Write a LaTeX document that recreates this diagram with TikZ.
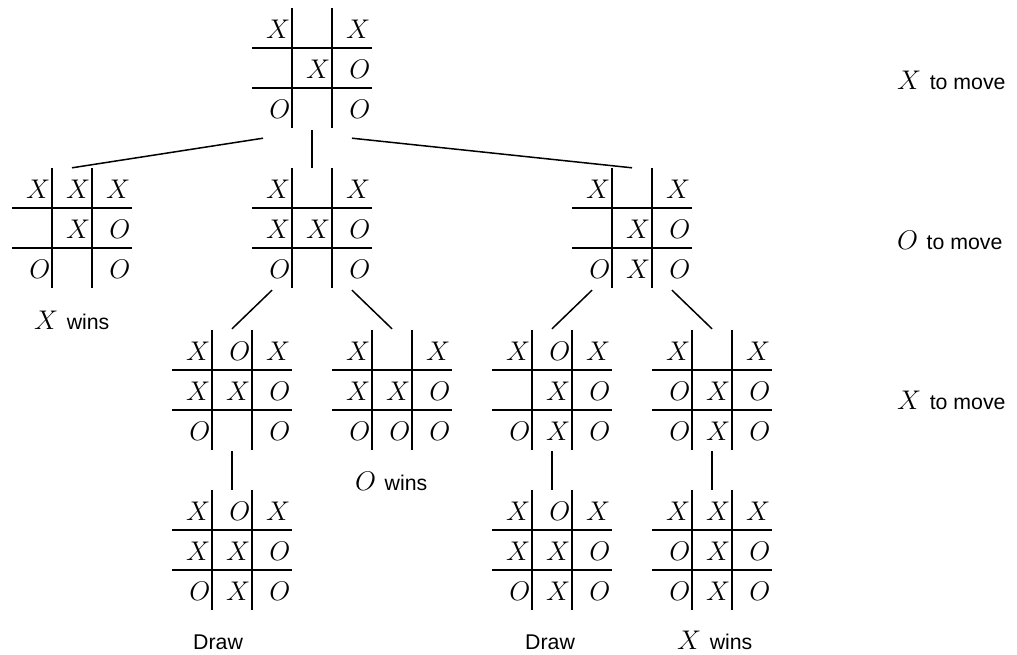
\RequirePackage{fix-cm}
\documentclass[tikz,border=0pt]{standalone}
\usepackage{fontspec}
\setmainfont{Liberation Sans}
\usetikzlibrary{calc}
\newcommand\XO[1]{{\fontsize{27}{30}\selectfont$#1$}\hspace{8.5pt}}
\tikzset{
  gridline/.style={line width=1.7pt},
  edge/.style={line width=1.5pt},
  cellmark/.style={inner sep=0pt, anchor=base east, font=\fontsize{27}{30}\selectfont},
  boardbox/.style={draw=none, minimum width=120pt, minimum height=120pt, inner sep=0pt},
  lbl/.style={inner sep=0pt, anchor=base west, font=\fontsize{21.3}{24}\selectfont},
}
% \tttboard{name}{left}{top}{cells}
\newcommand\tttboard[4]{%
  \node[boardbox] (#1) at (#2+60,#3+60) {};
  \draw[gridline] (#2+40,#3) -- (#2+40,#3+120);
  \draw[gridline] (#2+80,#3) -- (#2+80,#3+120);
  \draw[gridline] (#2,#3+40) -- (#2+120,#3+40);
  \draw[gridline] (#2,#3+80) -- (#2+120,#3+80);
  \foreach \c [count=\i from 0] in {#4} {
    \pgfmathtruncatemacro\col{mod(\i,3)}
    \pgfmathtruncatemacro\row{int(\i/3)}
    \node[cellmark] (#1-\i) at ({#2+40*(\col+1)-1.5},{#3+40*(\row+1)-10}) {$\c$};
  }
}
\begin{document}
\begin{tikzpicture}[x=1pt,y=-1pt]
\useasboundingbox (0,0) rectangle (1017,654);
% level 1
\tttboard{A}{252}{8}{X,{},X,{},X,O,O,{},O}
% level 2
\tttboard{B}{12}{168}{X,X,X,{},X,O,O,{},O}
\tttboard{C}{252}{168}{X,{},X,X,X,O,O,{},O}
\tttboard{D}{572}{168}{X,{},X,{},X,O,O,X,O}
% level 3
\tttboard{E}{172}{330}{X,O,X,X,X,O,O,{},O}
\tttboard{F}{332}{330}{X,{},X,X,X,O,O,O,O}
\tttboard{G}{492}{330}{X,O,X,{},X,O,O,X,O}
\tttboard{H}{652}{330}{X,{},X,O,X,O,O,X,O}
% level 4
\tttboard{E2}{172}{490}{X,O,X,X,X,O,O,X,O}
\tttboard{G2}{492}{490}{X,O,X,X,X,O,O,X,O}
\tttboard{H2}{652}{490}{X,X,X,O,X,O,O,X,O}
% connectors
\draw[edge] ($(A.south)+(-49,10)$) -- (B.north);
\draw[edge] ($(A.south)+(0,2)$) -- (C.north);
\draw[edge] ($(A.south)+(40,10)$) -- (D.north);
\draw[edge] ($(C.south)+(-40,2)$) -- ($(E.north)+(0,-1)$);
\draw[edge] ($(C.south)+(40,2)$) -- ($(F.north)+(0,-1)$);
\draw[edge] ($(D.south)+(-40,2)$) -- ($(G.north)+(0,-1)$);
\draw[edge] ($(D.south)+(40,2)$) -- ($(H.north)+(0,-1)$);
\draw[edge] ($(E.south)+(0,1)$) -- (E2.north);
\draw[edge] ($(G.south)+(0,1)$) -- (G2.north);
\draw[edge] ($(H.south)+(0,1)$) -- (H2.north);
% labels
\node[lbl] (wB) at (34,329) {\XO{X}wins};
\node[lbl] (wF) at (355,490) {\XO{O}wins};
\node[lbl] (dE) at (193,649) {Draw};
\node[lbl] (dG) at (525,649) {Draw};
\node[lbl] (wH) at (677,649) {\XO{X}wins};
\node[lbl] (m1) at (897,89) {\XO{X}to move};
\node[lbl] (m2) at (897,249) {\XO{O}to move};
\node[lbl] (m3) at (897,409) {\XO{X}to move};
\end{tikzpicture}
\end{document}
